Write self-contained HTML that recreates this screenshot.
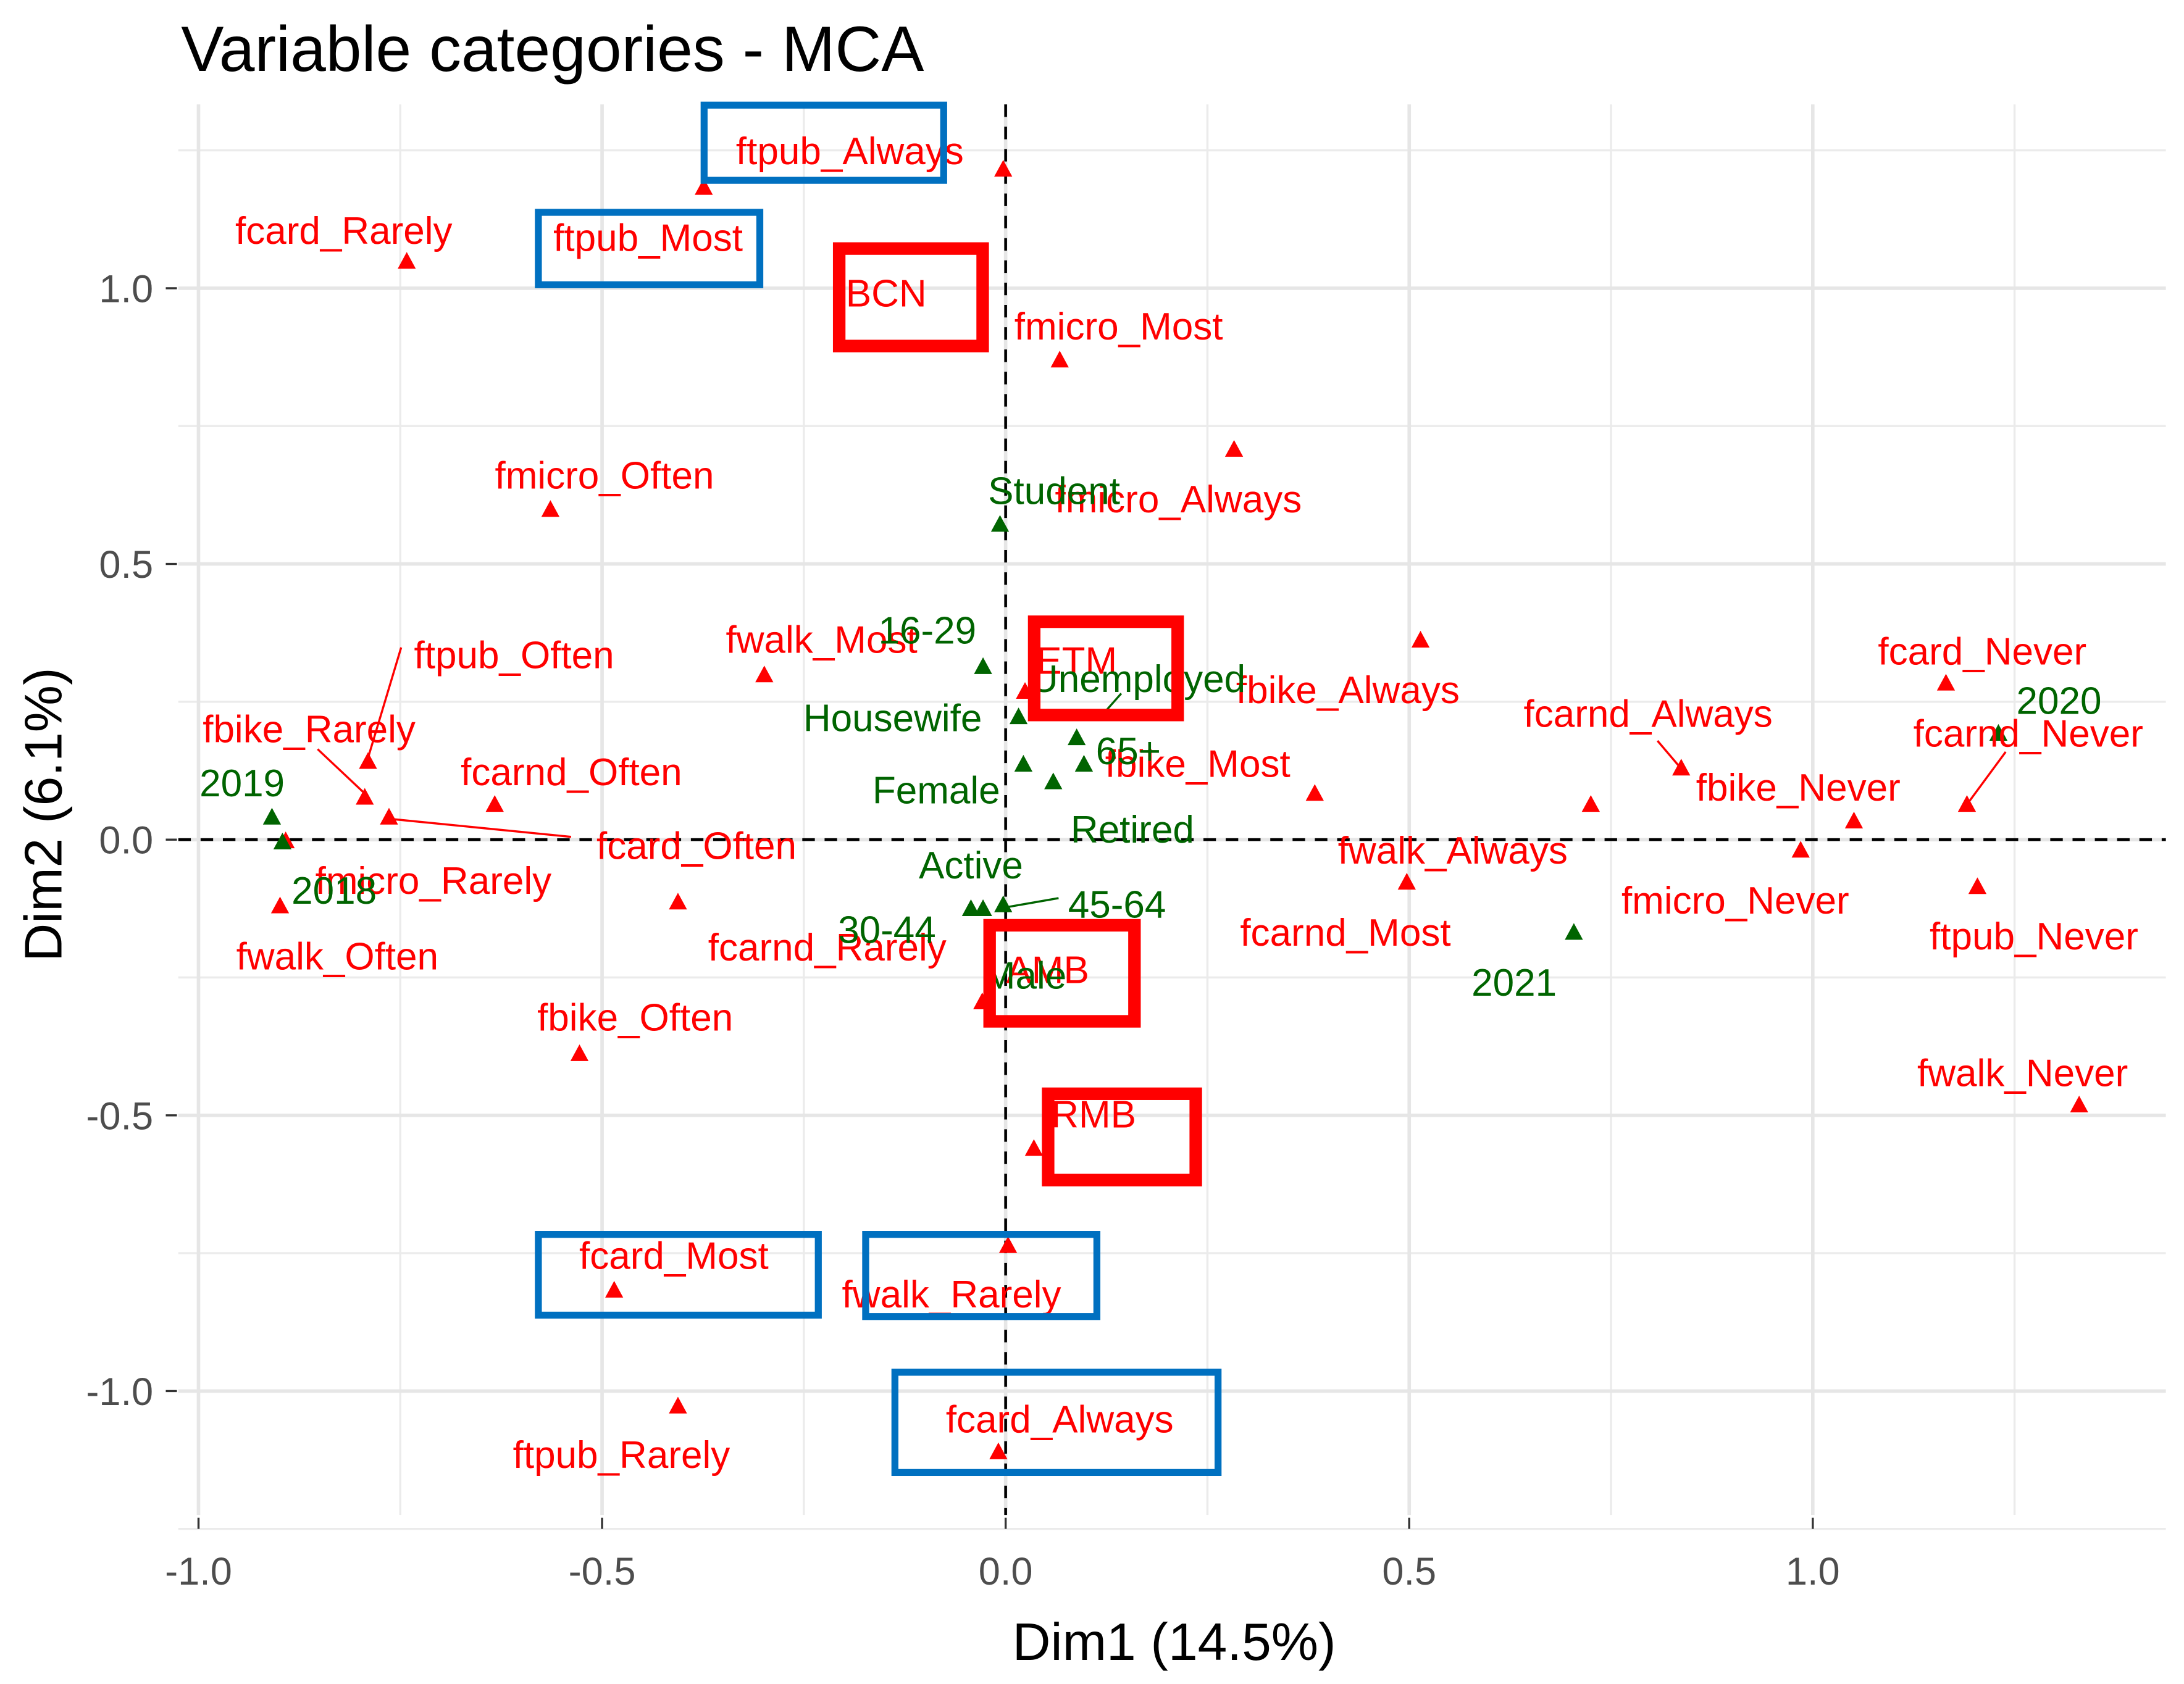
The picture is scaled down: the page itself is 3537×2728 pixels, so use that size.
<!DOCTYPE html>
<html><head><meta charset="utf-8"><style>
html,body{margin:0;padding:0;background:#fff;}
svg{display:block;}
text{font-family:"Liberation Sans",sans-serif;}
</style></head><body>
<svg id="chart" width="3537" height="2728" viewBox="0 0 1568 1209.4" xmlns="http://www.w3.org/2000/svg">
<rect x="0" y="0" width="1568" height="1210" fill="#fff"/>
<g id="grid"></g>
<g id="axes"></g>
<g id="segs"></g>
<g id="marks"></g>
<g id="labels"></g>
<g id="boxes"></g>
<text x="130" y="51" font-size="46" fill="#000">Variable categories - MCA</text>
<text x="843" y="1192" font-size="38" fill="#000" text-anchor="middle">Dim1 (14.5%)</text>
<text transform="translate(44,585) rotate(-90)" font-size="38" fill="#000" text-anchor="middle">Dim2 (6.1%)</text>
</svg>
<script>
const xTicks=[-1,-0.5,0,0.5,1];
const xTickLabels=["-1.0","-0.5","0.0","0.5","1.0"];
const yTicks=[-1,-0.5,0,0.5,1];
const yTickLabels=["-1.0","-0.5","0.0","0.5","1.0"];
const xMinor=[-0.75,-0.25,0.25,0.75,1.25];
const yMinor=[-1.25,-0.75,-0.25,0.25,0.75,1.25];
const redX=[-0.374,-0.003,-0.742,0.067,0.283,-0.564,-0.299,0.514,0.024,-0.790,-0.794,-0.764,-0.633,-0.892,-0.899,-0.406,0.383,0.725,0.837,1.051,0.985,1.165,1.191,1.204,0.497,-0.528,-0.029,0.035,0.003,-0.485,-0.406,-0.009,1.330];
const redY=[1.182,1.215,1.048,0.869,0.707,0.598,0.298,0.361,0.268,0.141,0.076,0.040,0.063,-0.003,-0.121,-0.114,0.083,0.063,0.129,0.033,-0.020,0.283,0.063,-0.086,-0.078,-0.389,-0.295,-0.561,-0.737,-0.818,-1.028,-1.111,-0.482];
const greenX=[-0.007,-0.028,0.016,0.022,0.059,0.088,0.097,-0.909,-0.896,-0.043,-0.028,-0.003,1.230,0.704];
const greenY=[0.571,0.313,0.222,0.136,0.104,0.184,0.136,0.040,-0.005,-0.126,-0.126,-0.119,0.192,-0.169];
const redLabels=["ftpub_Always","fcard_Rarely","ftpub_Most","BCN","fmicro_Most","fmicro_Always","fmicro_Often","fwalk_Most","ftpub_Often","fbike_Rarely","fcarnd_Often","fcard_Often","fmicro_Rarely","fwalk_Often","fcarnd_Rarely","ETM","fbike_Always","fbike_Most","fwalk_Always","fcarnd_Most","fcard_Never","fcarnd_Always","fcarnd_Never","fbike_Never","fmicro_Never","ftpub_Never","fwalk_Never","fbike_Often","AMB","RMB","fcard_Most","fwalk_Rarely","fcard_Always","ftpub_Rarely"];
const redLX=[-0.193,-0.820,-0.443,-0.148,0.140,0.214,-0.497,-0.228,-0.609,-0.863,-0.538,-0.383,-0.709,-0.828,-0.221,0.088,0.424,0.238,0.554,0.421,1.210,0.796,1.267,0.982,0.904,1.274,1.260,-0.459,0.052,0.109,-0.411,-0.067,0.067,-0.476];
const redLY=[1.202,1.058,1.045,0.944,0.884,0.571,0.614,0.316,0.288,0.154,0.076,-0.058,-0.121,-0.258,-0.242,0.278,0.225,0.091,-0.066,-0.215,0.295,0.182,0.146,0.048,-0.157,-0.222,-0.470,-0.369,-0.283,-0.545,-0.801,-0.871,-1.098,-1.162];
const greenLabels=["Student","16-29","Housewife","Unemployed","65+","Female","Retired","2019","2018","Active","45-64","30-44","Male","2020","2021"];
const greenLX=[0.060,-0.097,-0.140,0.164,0.152,-0.086,0.157,-0.946,-0.832,-0.043,0.138,-0.147,0.024,1.305,0.630];
const greenLY=[0.586,0.333,0.174,0.245,0.114,0.043,-0.028,0.056,-0.139,-0.093,-0.164,-0.210,-0.293,0.205,-0.306];

const NS="http://www.w3.org/2000/svg";
const X0=722,XU=579.5,Y0=603,YU=396;
const PL=128,PR=1555,PT=75,PB=1088;
const LSHIFT=-9;
function sx(v){return X0+v*XU;}
function sy(v){return Y0-v*YU;}
function mk(tag,attrs,parent){const e=document.createElementNS(NS,tag);for(const k in attrs)e.setAttribute(k,attrs[k]);parent.appendChild(e);return e;}
const grid=document.getElementById('grid'),axes=document.getElementById('axes'),marks=document.getElementById('marks'),labels=document.getElementById('labels'),segs=document.getElementById('segs'),boxes=document.getElementById('boxes');
xMinor.forEach(v=>{const l=mk('line',{x1:sx(v),x2:sx(v),y1:PT,y2:PB,stroke:'#ebebeb','stroke-width':1.5},grid);

});
yMinor.forEach(v=>{const l=mk('line',{x1:PL,x2:PR,y1:sy(v),y2:sy(v),stroke:'#ebebeb','stroke-width':1.5},grid);

});
xTicks.forEach((v,i)=>{const l=mk('line',{x1:sx(v),x2:sx(v),y1:PT,y2:PB,stroke:'#e6e6e6','stroke-width':2.5},grid);


const t=mk('line',{x1:sx(v),x2:sx(v),y1:PB+2,y2:PB+10,stroke:'#333','stroke-width':1.5},axes);


const tx=mk('text',{x:sx(v),y:PB+50,'font-size':28,fill:'#4d4d4d','text-anchor':'middle'},axes);tx.textContent=xTickLabels[i];

});
yTicks.forEach((v,i)=>{const l=mk('line',{x1:PL,x2:PR,y1:sy(v),y2:sy(v),stroke:'#e6e6e6','stroke-width':2.5},grid);


const t=mk('line',{x1:119,x2:127,y1:sy(v),y2:sy(v),stroke:'#333','stroke-width':1.5},axes);


const tx=mk('text',{x:110,y:sy(v)+10,'font-size':28,fill:'#4d4d4d','text-anchor':'end'},axes);tx.textContent=yTickLabels[i];

});
const hz=mk('line',{x1:PL,x2:PR,y1:sy(0),y2:sy(0),stroke:'#000','stroke-width':2,'stroke-dasharray':'9,7'},axes);


const vz=mk('line',{x1:sx(0),x2:sx(0),y1:PT,y2:PB,stroke:'#000','stroke-width':2,'stroke-dasharray':'9,7'},axes);


function tri(x,y,c){const px=sx(x),py=sy(y);return mk('polygon',{points:`${px-6.5},${py+5} ${px+6.5},${py+5} ${px},${py-7}`,fill:c},marks);}
redX.forEach((v,i)=>{const p=tri(v,redY[i],'#ff0000');

});
greenX.forEach((v,i)=>{const p=tri(v,greenY[i],'#006400');

});
redLabels.forEach((s,i)=>{const t=mk('text',{x:sx(redLX[i]),y:sy(redLY[i])+LSHIFT,'font-size':27.5,fill:'#ff0000','text-anchor':'middle'},labels);t.textContent=s;

});
greenLabels.forEach((s,i)=>{const t=mk('text',{x:sx(greenLX[i]),y:sy(greenLY[i])+LSHIFT,'font-size':27.5,fill:'#006400','text-anchor':'middle'},labels);t.textContent=s;

});
[[288,465,264,545,'#f00'],[228,538,262,570,'#f00'],[279,588,410,601,'#f00'],[1190,532,1207,552,'#f00'],[1440,540,1412,578,'#f00'],[760,645,720,652,'#006400'],[805,498,790,515,'#006400']].forEach(s=>{
const l=mk('line',{x1:s[0],y1:s[1],x2:s[2],y2:s[3],stroke:s[4],'stroke-width':1.5},segs);

});
[[503,73,177,59,'#0070c0',5],[384,150,164,57,'#0070c0',5],[384,884,206,63,'#0070c0',5],[619,884,171,64,'#0070c0',5],[640,983,237,77,'#0070c0',5],
 [598,174,112,79,'#ff0000',9],[738,442,112,76,'#ff0000',9],[706,660,113,78,'#ff0000',9],[748,781,115,71,'#ff0000',9]].forEach(b=>{
const r=mk('rect',{x:b[0]+b[5]/2,y:b[1]+b[5]/2,width:b[2]-b[5],height:b[3]-b[5],fill:'none',stroke:b[4],'stroke-width':b[5]},boxes);

});
</script>
</body></html>
